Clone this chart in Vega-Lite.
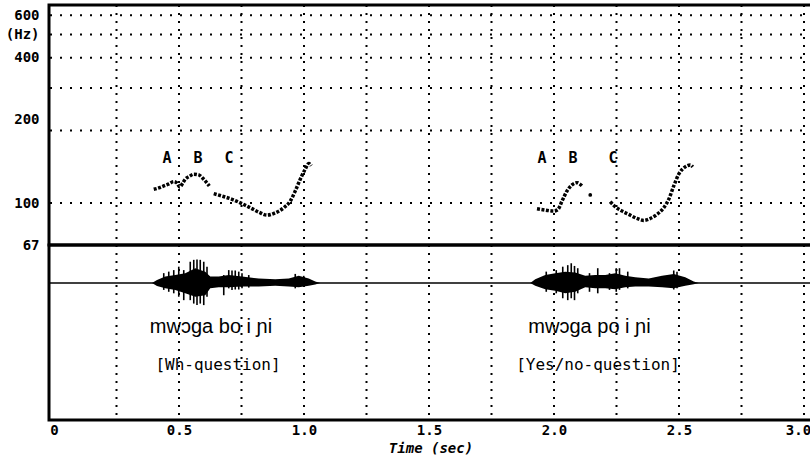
{
  "$schema": "https://vega.github.io/schema/vega-lite/v6.json",
  "padding": {"left": 3, "top": 2, "right": 0, "bottom": 2},
  "background": "white",
  "spacing": 0,
  "bounds": "flush",
  "config": {
    "view": {"stroke": "black", "strokeWidth": 3},
    "axis": {"labelColor": "black", "titleColor": "black"}
  },
  "datasets": {
    "f0": [
      {"t": 0.399, "hz": 114, "seg": "w1"}, {"t": 0.419, "hz": 115.5, "seg": "w1"}, {"t": 0.439, "hz": 117.7, "seg": "w1"},
      {"t": 0.459, "hz": 120, "seg": "w1"}, {"t": 0.479, "hz": 122.7, "seg": "w1"}, {"t": 0.492, "hz": 121, "seg": "w1"},
      {"t": 0.503, "hz": 116.6, "seg": "w1"}, {"t": 0.515, "hz": 121, "seg": "w1"}, {"t": 0.525, "hz": 125.5, "seg": "w1"},
      {"t": 0.542, "hz": 129, "seg": "w1"}, {"t": 0.559, "hz": 131.7, "seg": "w1"}, {"t": 0.579, "hz": 130.8, "seg": "w1"},
      {"t": 0.599, "hz": 125.5, "seg": "w1"}, {"t": 0.621, "hz": 117.7, "seg": "w1"},
      {"t": 0.639, "hz": 109.4, "seg": "w2"}, {"t": 0.672, "hz": 106.9, "seg": "w2"}, {"t": 0.712, "hz": 103.6, "seg": "w2"},
      {"t": 0.752, "hz": 99.4, "seg": "w2"}, {"t": 0.785, "hz": 95.6, "seg": "w2"}, {"t": 0.819, "hz": 91.7, "seg": "w2"},
      {"t": 0.852, "hz": 89.1, "seg": "w2"}, {"t": 0.885, "hz": 91.1, "seg": "w2"}, {"t": 0.919, "hz": 95.6, "seg": "w2"},
      {"t": 0.945, "hz": 101.9, "seg": "w2"}, {"t": 0.965, "hz": 112.2, "seg": "w2"}, {"t": 0.985, "hz": 125.5, "seg": "w2"},
      {"t": 1.005, "hz": 138.2, "seg": "w2"}, {"t": 1.019, "hz": 145.9, "seg": "w2"}, {"t": 1.029, "hz": 142.6, "seg": "w2"},
      {"t": 1.932, "hz": 94.7, "seg": "y1"}, {"t": 1.965, "hz": 93.5, "seg": "y1"}, {"t": 1.999, "hz": 92.6, "seg": "y1"},
      {"t": 2.016, "hz": 94.1, "seg": "y1"}, {"t": 2.032, "hz": 101.9, "seg": "y1"}, {"t": 2.052, "hz": 112.2, "seg": "y1"},
      {"t": 2.072, "hz": 118.9, "seg": "y1"}, {"t": 2.092, "hz": 121.5, "seg": "y1"}, {"t": 2.112, "hz": 117.7, "seg": "y1"},
      {"t": 2.145, "hz": 108, "seg": "iso"},
      {"t": 2.225, "hz": 101.3, "seg": "y2"}, {"t": 2.245, "hz": 96.5, "seg": "y2"}, {"t": 2.272, "hz": 92.6, "seg": "y2"},
      {"t": 2.299, "hz": 89.7, "seg": "y2"}, {"t": 2.332, "hz": 86.3, "seg": "y2"}, {"t": 2.359, "hz": 84.7, "seg": "y2"},
      {"t": 2.385, "hz": 86.3, "seg": "y2"}, {"t": 2.412, "hz": 89.7, "seg": "y2"}, {"t": 2.439, "hz": 95.6, "seg": "y2"},
      {"t": 2.459, "hz": 103.6, "seg": "y2"}, {"t": 2.479, "hz": 117.7, "seg": "y2"}, {"t": 2.499, "hz": 131.7, "seg": "y2"},
      {"t": 2.525, "hz": 141.3, "seg": "y2"}, {"t": 2.545, "hz": 143.9, "seg": "y2"}, {"t": 2.555, "hz": 141.3, "seg": "y2"}
    ],
    "abc": [
      {"t": 0.452, "hz": 153, "label": "A"}, {"t": 0.576, "hz": 153, "label": "B"}, {"t": 0.7, "hz": 153, "label": "C"},
      {"t": 1.952, "hz": 153, "label": "A"}, {"t": 2.076, "hz": 153, "label": "B"}, {"t": 2.236, "hz": 153, "label": "C"}
    ],
    "vgrid": [
      {"t": 0.25}, {"t": 0.5}, {"t": 0.75}, {"t": 1.0}, {"t": 1.25}, {"t": 1.5},
      {"t": 1.75}, {"t": 2.0}, {"t": 2.25}, {"t": 2.5}, {"t": 2.75}, {"t": 3.0}
    ],
    "hgrid": [{"hz": 100}, {"hz": 200}, {"hz": 300}, {"hz": 400}, {"hz": 500}, {"hz": 600}],
    "wave": [
      {"t": 0.392, "hi": 0, "lo": 0, "utt": "wh"}, {"t": 0.412, "hi": 0.08, "lo": -0.08, "utt": "wh"},
      {"t": 0.445, "hi": 0.17, "lo": -0.14, "utt": "wh"}, {"t": 0.485, "hi": 0.21, "lo": -0.18, "utt": "wh"},
      {"t": 0.525, "hi": 0.26, "lo": -0.27, "utt": "wh"}, {"t": 0.565, "hi": 0.39, "lo": -0.36, "utt": "wh"},
      {"t": 0.605, "hi": 0.3, "lo": -0.32, "utt": "wh"}, {"t": 0.625, "hi": 0.17, "lo": -0.14, "utt": "wh"},
      {"t": 0.659, "hi": 0.17, "lo": -0.11, "utt": "wh"}, {"t": 0.699, "hi": 0.21, "lo": -0.11, "utt": "wh"},
      {"t": 0.752, "hi": 0.17, "lo": -0.09, "utt": "wh"}, {"t": 0.819, "hi": 0.12, "lo": -0.09, "utt": "wh"},
      {"t": 0.885, "hi": 0.1, "lo": -0.07, "utt": "wh"}, {"t": 0.939, "hi": 0.12, "lo": -0.09, "utt": "wh"},
      {"t": 0.979, "hi": 0.19, "lo": -0.11, "utt": "wh"}, {"t": 1.019, "hi": 0.12, "lo": -0.07, "utt": "wh"},
      {"t": 1.045, "hi": 0.04, "lo": -0.04, "utt": "wh"}, {"t": 1.065, "hi": 0, "lo": 0, "utt": "wh"},
      {"t": 1.905, "hi": 0, "lo": 0, "utt": "yn"}, {"t": 1.925, "hi": 0.1, "lo": -0.07, "utt": "yn"},
      {"t": 1.965, "hi": 0.21, "lo": -0.16, "utt": "yn"}, {"t": 2.005, "hi": 0.26, "lo": -0.2, "utt": "yn"},
      {"t": 2.045, "hi": 0.3, "lo": -0.27, "utt": "yn"}, {"t": 2.085, "hi": 0.28, "lo": -0.23, "utt": "yn"},
      {"t": 2.125, "hi": 0.19, "lo": -0.11, "utt": "yn"}, {"t": 2.165, "hi": 0.21, "lo": -0.14, "utt": "yn"},
      {"t": 2.205, "hi": 0.21, "lo": -0.14, "utt": "yn"}, {"t": 2.245, "hi": 0.26, "lo": -0.16, "utt": "yn"},
      {"t": 2.285, "hi": 0.19, "lo": -0.11, "utt": "yn"}, {"t": 2.325, "hi": 0.15, "lo": -0.09, "utt": "yn"},
      {"t": 2.379, "hi": 0.12, "lo": -0.09, "utt": "yn"}, {"t": 2.432, "hi": 0.19, "lo": -0.11, "utt": "yn"},
      {"t": 2.479, "hi": 0.24, "lo": -0.14, "utt": "yn"}, {"t": 2.525, "hi": 0.15, "lo": -0.07, "utt": "yn"},
      {"t": 2.559, "hi": 0.04, "lo": -0.03, "utt": "yn"}, {"t": 2.579, "hi": 0, "lo": 0, "utt": "yn"}
    ],
    "spikes": [
      {"t": 0.439, "hi": 0.26, "lo": -0.18}, {"t": 0.459, "hi": 0.3, "lo": -0.23}, {"t": 0.479, "hi": 0.34, "lo": -0.27},
      {"t": 0.499, "hi": 0.43, "lo": -0.36}, {"t": 0.519, "hi": 0.34, "lo": -0.45}, {"t": 0.545, "hi": 0.56, "lo": -0.45},
      {"t": 0.559, "hi": 0.61, "lo": -0.54}, {"t": 0.572, "hi": 0.62, "lo": -0.58}, {"t": 0.585, "hi": 0.61, "lo": -0.54},
      {"t": 0.599, "hi": 0.56, "lo": -0.58}, {"t": 0.612, "hi": 0.43, "lo": -0.36}, {"t": 0.679, "hi": 0.21, "lo": -0.32},
      {"t": 0.699, "hi": 0.34, "lo": -0.14}, {"t": 0.712, "hi": 0.33, "lo": -0.18}, {"t": 0.725, "hi": 0.33, "lo": -0.17},
      {"t": 0.739, "hi": 0.3, "lo": -0.17}, {"t": 0.752, "hi": 0.26, "lo": -0.14}, {"t": 0.779, "hi": 0.21, "lo": -0.12},
      {"t": 0.965, "hi": 0.24, "lo": -0.14}, {"t": 0.999, "hi": 0.19, "lo": -0.1},
      {"t": 1.969, "hi": 0.3, "lo": -0.23}, {"t": 2.009, "hi": 0.34, "lo": -0.27}, {"t": 2.035, "hi": 0.43, "lo": -0.4},
      {"t": 2.055, "hi": 0.47, "lo": -0.45}, {"t": 2.069, "hi": 0.52, "lo": -0.4}, {"t": 2.082, "hi": 0.45, "lo": -0.45},
      {"t": 2.095, "hi": 0.39, "lo": -0.27}, {"t": 2.142, "hi": 0.26, "lo": -0.23}, {"t": 2.175, "hi": 0.39, "lo": -0.27},
      {"t": 2.222, "hi": 0.26, "lo": -0.18}, {"t": 2.249, "hi": 0.39, "lo": -0.23}, {"t": 2.262, "hi": 0.39, "lo": -0.18},
      {"t": 2.295, "hi": 0.3, "lo": -0.14}, {"t": 2.479, "hi": 0.33, "lo": -0.17}, {"t": 2.492, "hi": 0.3, "lo": -0.14}
    ],
    "gloss": [
      {"t": 0.628, "y": -1.16, "text": "mwɔga bo i ɲi", "kind": "ipa"},
      {"t": 2.142, "y": -1.16, "text": "mwɔga po i ɲi", "kind": "ipa"},
      {"t": 0.656, "y": -2.16, "text": "[Wh-question]", "kind": "type"},
      {"t": 2.176, "y": -2.16, "text": "[Yes/no-question]", "kind": "type"}
    ]
  },
  "vconcat": [
    {
      "width": 763,
      "height": 240,
      "layer": [
        {
          "data": {"name": "hgrid"},
          "mark": {"type": "rule", "color": "black", "strokeWidth": 2, "strokeDash": [2, 8]},
          "encoding": {
            "y": {"field": "hz", "type": "quantitative", "scale": {"type": "log", "domain": [67, 662], "nice": false},
              "axis": {"values": [67, 100, 200, 400, 500, 600], "labelExpr": "datum.value == 500 ? '(Hz)' : datum.label",
                "ticks": false, "domain": false, "grid": false, "title": null, "labelPadding": 10, "labelOverlap": false,
                "labelFont": "DejaVu Sans Mono", "labelFontWeight": "bold", "labelFontSize": 14,
                "labelOffset": {"condition": {"test": "datum.value == 200", "value": -11}, "value": 0}}}
          }
        },
        {
          "data": {"name": "vgrid"},
          "mark": {"type": "rule", "color": "black", "strokeWidth": 2, "strokeDash": [2, 6]},
          "encoding": {
            "x": {"field": "t", "type": "quantitative", "scale": {"domain": [-0.02, 3.032], "nice": false, "zero": false}, "axis": null}
          }
        },
        {
          "data": {"name": "f0"},
          "transform": [{"filter": "datum.seg != 'iso'"}],
          "mark": {"type": "line", "color": "black", "strokeWidth": 3.5, "strokeDash": [3, 1.5], "interpolate": "monotone"},
          "encoding": {
            "x": {"field": "t", "type": "quantitative"},
            "y": {"field": "hz", "type": "quantitative"},
            "detail": {"field": "seg"}
          }
        },
        {
          "data": {"name": "f0"},
          "transform": [{"filter": "datum.seg == 'iso'"}],
          "mark": {"type": "point", "filled": true, "color": "black", "size": 14, "opacity": 1},
          "encoding": {
            "x": {"field": "t", "type": "quantitative"},
            "y": {"field": "hz", "type": "quantitative"}
          }
        },
        {
          "data": {"name": "abc"},
          "mark": {"type": "text", "font": "DejaVu Sans Mono", "fontWeight": "bold", "fontSize": 15, "color": "black", "baseline": "middle"},
          "encoding": {
            "x": {"field": "t", "type": "quantitative"},
            "y": {"field": "hz", "type": "quantitative"},
            "text": {"field": "label"}
          }
        }
      ]
    },
    {
      "width": 763,
      "height": 175,
      "layer": [
        {
          "data": {"name": "vgrid"},
          "mark": {"type": "rule", "color": "black", "strokeWidth": 2, "strokeDash": [2, 6]},
          "encoding": {
            "x": {"field": "t", "type": "quantitative", "scale": {"domain": [-0.02, 3.032], "nice": false, "zero": false},
              "axis": {"values": [0, 0.5, 1.0, 1.5, 2.0, 2.5, 3.0],
                "labelExpr": "datum.value == 0 ? '0' : format(datum.value, '.1f')",
                "ticks": false, "domain": false, "grid": false, "labelPadding": 3, "labelFlush": false,
                "labelOffset": {"condition": {"test": "datum.value == 3", "value": -6}, "value": 0},
                "labelFont": "DejaVu Sans Mono", "labelFontWeight": "bold", "labelFontSize": 14,
                "title": "Time (sec)", "titleFont": "DejaVu Sans Mono", "titleFontWeight": "bold", "titleFontStyle": "italic",
                "titleFontSize": 14, "titlePadding": 4}}
          }
        },
        {
          "data": {"values": [{"amp": 0}]},
          "mark": {"type": "rule", "color": "black", "strokeWidth": 1.5},
          "encoding": {
            "y": {"field": "amp", "type": "quantitative", "scale": {"domain": [-3.6, 1], "nice": false, "zero": false}, "axis": null}
          }
        },
        {
          "data": {"name": "wave"},
          "mark": {"type": "area", "color": "black", "opacity": 1, "interpolate": "linear"},
          "encoding": {
            "x": {"field": "t", "type": "quantitative"},
            "y": {"field": "hi", "type": "quantitative"},
            "y2": {"field": "lo"},
            "detail": {"field": "utt"}
          }
        },
        {
          "data": {"name": "spikes"},
          "mark": {"type": "rule", "color": "black", "strokeWidth": 1.6},
          "encoding": {
            "x": {"field": "t", "type": "quantitative"},
            "y": {"field": "hi", "type": "quantitative"},
            "y2": {"field": "lo"}
          }
        },
        {
          "data": {"name": "gloss"},
          "transform": [{"filter": "datum.kind == 'ipa'"}],
          "mark": {"type": "text", "font": "Liberation Sans", "fontSize": 20, "color": "black", "baseline": "middle"},
          "encoding": {
            "x": {"field": "t", "type": "quantitative"},
            "y": {"field": "y", "type": "quantitative"},
            "text": {"field": "text"}
          }
        },
        {
          "data": {"name": "gloss"},
          "transform": [{"filter": "datum.kind == 'type'"}],
          "mark": {"type": "text", "font": "DejaVu Sans Mono", "fontSize": 16, "color": "black", "baseline": "middle"},
          "encoding": {
            "x": {"field": "t", "type": "quantitative"},
            "y": {"field": "y", "type": "quantitative"},
            "text": {"field": "text"}
          }
        }
      ]
    }
  ]
}
